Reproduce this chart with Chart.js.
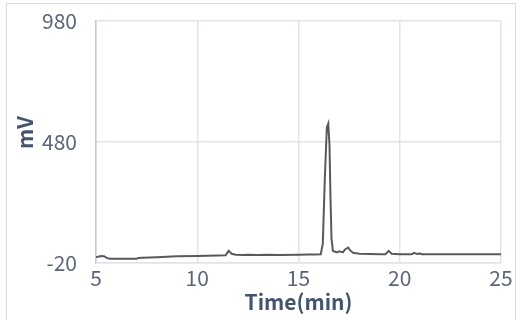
<!DOCTYPE html>
<html>
<head>
<meta charset="utf-8">
<script src="https://cdn.jsdelivr.net/npm/chart.js@4/dist/chart.umd.min.js"></script>
<style>
  html, body { margin: 0; padding: 0; background: #fff; overflow: hidden; }
  #wrap { position: relative; width: 526px; height: 320px; }
  #frame { position: absolute; left: 6px; top: 3px; width: 510px; height: 330px; border: 1.5px solid #dcdcdc; box-sizing: border-box; }
  canvas { position: absolute; left: 0; top: 0; }
</style>
</head>
<body>
<div id="wrap">
  <div id="frame"></div>
  <canvas id="chart" width="526" height="320"></canvas>
</div>
<script>
// chromatogram trace
const times = [5.0, 5.1, 5.25, 5.4, 5.55, 5.7, 6.5, 7.0, 7.1, 7.3, 8.0, 8.5, 9.0, 10.0, 11.0, 11.4,
  11.55, 11.7, 11.9, 12.3, 12.5, 13.0, 13.5, 14.0, 15.0, 15.5, 15.8, 16.1, 16.2, 16.3, 16.4, 16.47,
  16.53, 16.58, 16.63, 16.7, 16.9, 17.0, 17.1, 17.2, 17.3, 17.45, 17.55, 17.7, 18.0, 18.5, 19.0, 19.3,
  19.45, 19.6, 20.0, 20.6, 20.7, 20.85, 21.0, 21.1, 22.0, 25.0];
const mv = [5, 6, 9, 8, 0, -2, -2, -2, 1, 2, 4, 6, 8, 9, 11, 12,
  30, 18, 14, 13, 14, 13, 14, 13, 14, 15, 15, 16, 60, 330, 540, 556,
  470, 250, 80, 30, 24, 28, 26, 25, 36, 44, 32, 22, 18, 17, 16, 16,
  30, 18, 16, 16, 22, 17, 19, 16, 16, 16];
const xTicks = [5, 10, 15, 20, 25];
const yTicks = [-20, 480, 980];

const txt = '#5b6579';
const gridCol = '#dfe3ea';
const fam = '"Noto Sans CJK JP", "Noto Sans", sans-serif';

new Chart(document.getElementById('chart'), {
  type: 'line',
  data: {
    datasets: [{
      data: times.map((t, i) => ({x: t, y: mv[i]})),
      borderColor: '#595959',
      borderWidth: 2,
      pointRadius: 0,
      tension: 0,
      fill: false
    }]
  },
  options: {
    responsive: false,
    animation: false,
    layout: { padding: { left: 8, right: 25, top: 21, bottom: 0 } },
    plugins: { legend: { display: false }, tooltip: { enabled: false } },
    scales: {
      x: {
        type: 'linear',
        min: 5, max: 25,
        afterBuildTicks: s => { s.ticks = xTicks.map(v => ({value: v})); },
        afterFit: s => { s.height = 57; },
        grid: { color: gridCol, lineWidth: 1.5, drawTicks: false },
        border: { color: gridCol, width: 1.5 },
        ticks: { color: txt, padding: 2, font: { family: fam, size: 21 }, maxRotation: 0 },
        title: { display: true, text: 'Time(min)', color: '#44546a',
          font: { family: fam, size: 21, weight: 'bold' }, padding: { top: 0, bottom: 5 } }
      },
      y: {
        min: -20, max: 980,
        afterBuildTicks: s => { s.ticks = yTicks.map(v => ({value: v})); },
        afterFit: s => { s.width = 88; },
        // gap between labels and axis comes from an invisible tick mark
        grid: { color: gridCol, lineWidth: 1.5, drawTicks: true, tickLength: 19, tickColor: 'rgba(0,0,0,0)' },
        border: { color: '#c5cbd6', width: 1.5 },
        ticks: { color: txt, padding: 0, font: { family: fam, size: 21 } },
        title: { display: true, text: '    mV', color: '#44546a',
          font: { family: fam, size: 21, weight: 'bold' }, padding: { top: 4, bottom: 0 } }
      }
    }
  }
});
</script>
</body>
</html>
